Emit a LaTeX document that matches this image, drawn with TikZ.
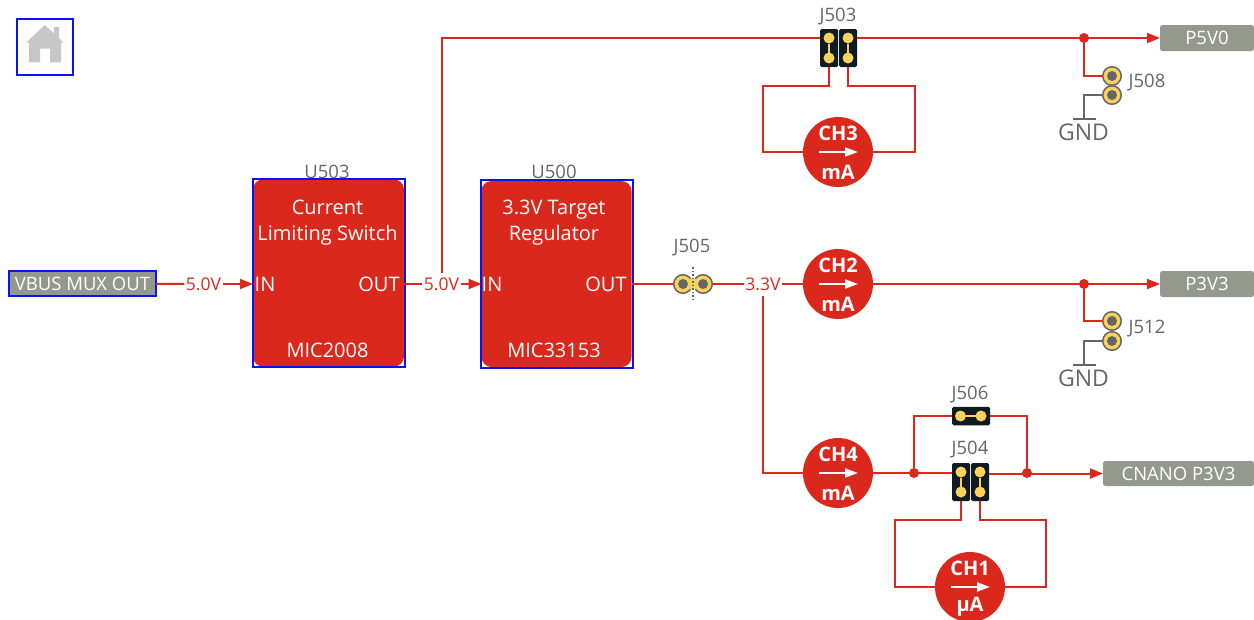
\documentclass[tikz,border=0pt]{standalone}
\usepackage{fontspec}
\setmainfont{Open Sans}
\usetikzlibrary{arrows.meta}
\definecolor{mchpred}{HTML}{DA291C}
\definecolor{tagbg}{HTML}{939A8D}
\definecolor{padyellow}{HTML}{F8D25A}
\definecolor{jumperblack}{HTML}{0F1A22}
\definecolor{labelgray}{HTML}{666666}
\definecolor{linkblue}{HTML}{0A14F0}
\begin{document}
\begin{tikzpicture}[
    x=1pt, y=-1pt,
    every node/.style={inner sep=0pt, outer sep=0pt},
    chip/.style={rectangle, rounded corners=10pt, fill=mchpred, minimum width=151pt, minimum height=187pt},
    hotspot/.style={rectangle, draw=linkblue, line width=2pt, minimum width=152pt, minimum height=188pt},
    chiptext/.style={text=white, font=\fontsize{20}{26}\selectfont, align=center},
    partname/.style={text=labelgray, font=\fontsize{18.5}{22}\selectfont},
    voltage/.style={text=mchpred, fill=white, font=\fontsize{17.5}{20}\selectfont, inner xsep=1.5pt, minimum height=23pt},
    tag/.style={rectangle, rounded corners=2.5pt, fill=tagbg, text=white, minimum height=26pt, font=\fontsize{18.5}{22}\selectfont},
    meter/.style={circle, fill=mchpred, minimum size=70pt},
    metertext/.style={text=white, font=\fontsize{20}{24}\selectfont\bfseries},
    jumper/.style={rectangle, rounded corners=1.5pt, fill=jumperblack, minimum width=18pt, minimum height=38pt},
    jumperpad/.style={circle, fill=padyellow, minimum size=11pt},
    pad/.style={circle, fill=padyellow, draw=labelgray, line width=1.5pt, minimum size=18.5pt},
    padhole/.style={circle, fill=labelgray, minimum size=10pt},
    junction/.style={circle, fill=mchpred, minimum size=10pt},
    wire/.style={draw=mchpred, line width=2pt},
    gndwire/.style={draw=labelgray, line width=2pt},
    tip/.style={-{Triangle[length=13pt,width=10pt]}}
]
    \useasboundingbox (0,0) rectangle (1254,619);

    % Home button
    \fill[black!22] (44.7,25) -- (54,33.5) -- (54,27) -- (59,27) -- (59,38) -- (63.3,42.7) -- (61,42.7)
        -- (61,62.3) -- (50,62.3) -- (50,48.5) -- (40,48.5) -- (40,62.3) -- (29,62.3) -- (29,42.7) -- (26,42.7) -- cycle;
    \node[rectangle, draw=linkblue, line width=2pt, minimum size=56pt] (home) at (44.5,46.5) {};

    % Input tag
    \node[tag, rounded corners=0pt, minimum width=147pt, minimum height=25pt, draw=linkblue, line width=2pt] (vbus) at (82.5,283.5) {VBUS MUX OUT};

    % Switch and regulator
    \node[chip] (u503) at (328.5,273) {};
    \node[hotspot] (u503box) at (328.5,272.5) {};
    \node[partname] (u503name) at (327,171.5) {U503};
    \node[chiptext] (u503title) at (327.5,222.5) {Current\\Limiting Switch};
    \node[chiptext] (u503in) at (265,284) {IN};
    \node[chiptext] (u503out) at (379,284) {OUT};
    \node[chiptext] (u503part) at (327.5,350) {MIC2008};

    \node[chip, minimum width=150pt, minimum height=186pt] (u500) at (556.5,274) {};
    \node[hotspot] (u500box) at (556.5,274) {};
    \node[partname] (u500name) at (554,171.5) {U500};
    \node[chiptext] (u500title) at (554,222.5) {3.3V Target\\Regulator};
    \node[chiptext] (u500in) at (492,284) {IN};
    \node[chiptext] (u500out) at (606,284) {OUT};
    \node[chiptext] (u500part) at (554,350) {MIC33153};

    % Current meters
    \foreach \name/\x/\y/\ch/\unit in {ch3/838/152/CH3/mA, ch2/838/284/CH2/mA, ch4/838/473/CH4/mA, ch1/970/587/CH1/µA} {
        \node[meter] (\name) at (\x,\y) {};
        \node[metertext] (\name top) at (\x,\y-19) {\ch};
        \node[metertext] (\name unit) at (\x,\y+20) {\unit};
        \draw[white, line width=2pt, -{Triangle[length=13pt,width=9pt]}] ([xshift=-19pt]\name.center) -- ([xshift=20pt]\name.center);
    }

    % Jumper blocks
    \node[jumper] (j503a) at (829,48) {};
    \node[jumper] (j503b) at (848,48) {};
    \node[jumper] (j504a) at (961,482) {};
    \node[jumper] (j504b) at (980,482) {};
    \node[jumper, minimum width=38pt, minimum height=18.5pt] (j506) at (971,416) {};
    \foreach \name in {j503a, j503b, j504a, j504b} {
        \node[jumperpad] (\name top) at ([yshift=10pt]\name.center) {};
        \node[jumperpad] (\name bot) at ([yshift=-10pt]\name.center) {};
        \draw[padyellow, line width=2pt] (\name top) -- (\name bot);
    }
    \node[jumperpad] (j506left) at (960.5,416) {};
    \node[jumperpad] (j506right) at (981,416) {};
    \draw[padyellow, line width=2pt] (j506left) -- (j506right);

    % Test pads
    \foreach \name/\x/\y in {j508a/1112/76, j508b/1112/95, j512a/1112/321, j512b/1112/341} {
        \node[pad] (\name) at (\x,\y) {};
        \node[padhole] (\name hole) at (\x,\y) {};
    }

    % J505 solder bridge
    \node[pad] (j505a) at (683,284) {};
    \node[pad] (j505b) at (703,284) {};
    \fill[padyellow] (686,279) rectangle (700,289);
    \node[padhole] (j505ahole) at (683,284) {};
    \node[padhole] (j505bhole) at (703,284) {};
    \coordinate (j505top) at (693,267);
    \coordinate (j505bot) at (693,302);
    \draw[labelgray, line width=1.5pt, dotted] (j505top) -- (j505bot);

    % Part labels
    \node[partname] (j503name) at (838,17) {J503};
    \node[partname] (j505name) at (692,248) {J505};
    \node[partname] (j506name) at (970,395) {J506};
    \node[partname] (j504name) at (970,450) {J504};
    \node[partname] (j508name) at (1147,83) {J508};
    \node[partname] (j512name) at (1147,329) {J512};

    % Output tags
    \node[tag, minimum width=94pt] (p5v0) at (1207,38) {P5V0};
    \node[tag, minimum width=94pt] (p3v3) at (1207,284) {P3V3};
    \node[tag, minimum width=151pt, minimum height=25pt] (cnano) at (1178.5,473.5) {CNANO P3V3};

    % Voltage labels
    \node[voltage] (v5a) at (203.5,284) {5.0V};
    \node[voltage] (v5b) at (441.5,284) {5.0V};
    \node[voltage] (v33) at (763,284) {3.3V};

    % Junctions
    \node[junction] (dot5v) at (1084,38) {};
    \node[junction] (dot3v) at (1084,284) {};
    \node[junction] (dotleft) at (914,473) {};
    \node[junction] (dotright) at (1027,473) {};

    % Ground symbols
    \node[rectangle, fill=labelgray, minimum width=23pt, minimum height=2pt] (gnd508) at (1084,119) {};
    \node[rectangle, fill=labelgray, minimum width=23pt, minimum height=2pt] (gnd512) at (1084,365) {};
    \node[text=labelgray, font=\fontsize{23}{26}\selectfont] (gnd508name) at (1083.5,132) {GND};
    \node[text=labelgray, font=\fontsize{23}{26}\selectfont] (gnd512name) at (1083.5,378) {GND};

    % 5V path
    \draw[wire] (vbus) -- (v5a);
    \draw[wire, tip] (v5a) -- (u503.west |- v5a);
    \draw[wire] (u503.east |- v5b) -- (v5b);
    \draw[wire, tip] (v5b) -- (u500.west |- v5b);
    \draw[wire] (v5b.north) |- (j503a.west |- dot5v);
    \draw[wire, tip] (j503b.east |- dot5v) -- (p5v0.west);
    \draw[wire] (j503a.south) -- ++(0,19) -| (763,152) -- (ch3.west);
    \draw[wire] (j503b.south) -- ++(0,19) -| (915,152) -- (ch3.east);
    \draw[wire] (dot5v) |- (j508a);
    \draw[gndwire] (j508b) -| (gnd508.north);

    % 3.3V path
    \draw[wire] (u500.east |- j505a) -- (j505a);
    \draw[wire] (j505b) -- (v33);
    \draw[wire] (v33) -- (ch2);
    \draw[wire, tip] (ch2) -- (p3v3.west);
    \draw[wire] (dot3v) |- (j512a);
    \draw[gndwire] (j512b) -| (gnd512.north);
    \draw[wire] (v33.south) |- (ch4.west);

    % Nano path
    \draw[wire] (ch4.east) -- (j504a.west |- ch4);
    \draw[wire, tip] (j504b.east |- cnano.west) -- (cnano.west);
    \draw[wire] (dotleft) |- (j506.west);
    \draw[wire] (dotright) |- (j506.east);
    \draw[wire] (j504a.south) -- ++(0,19) -| (895,587) -- (ch1.west);
    \draw[wire] (j504b.south) -- ++(0,19) -| (1046,587) -- (ch1.east);
\end{tikzpicture}
\end{document}
